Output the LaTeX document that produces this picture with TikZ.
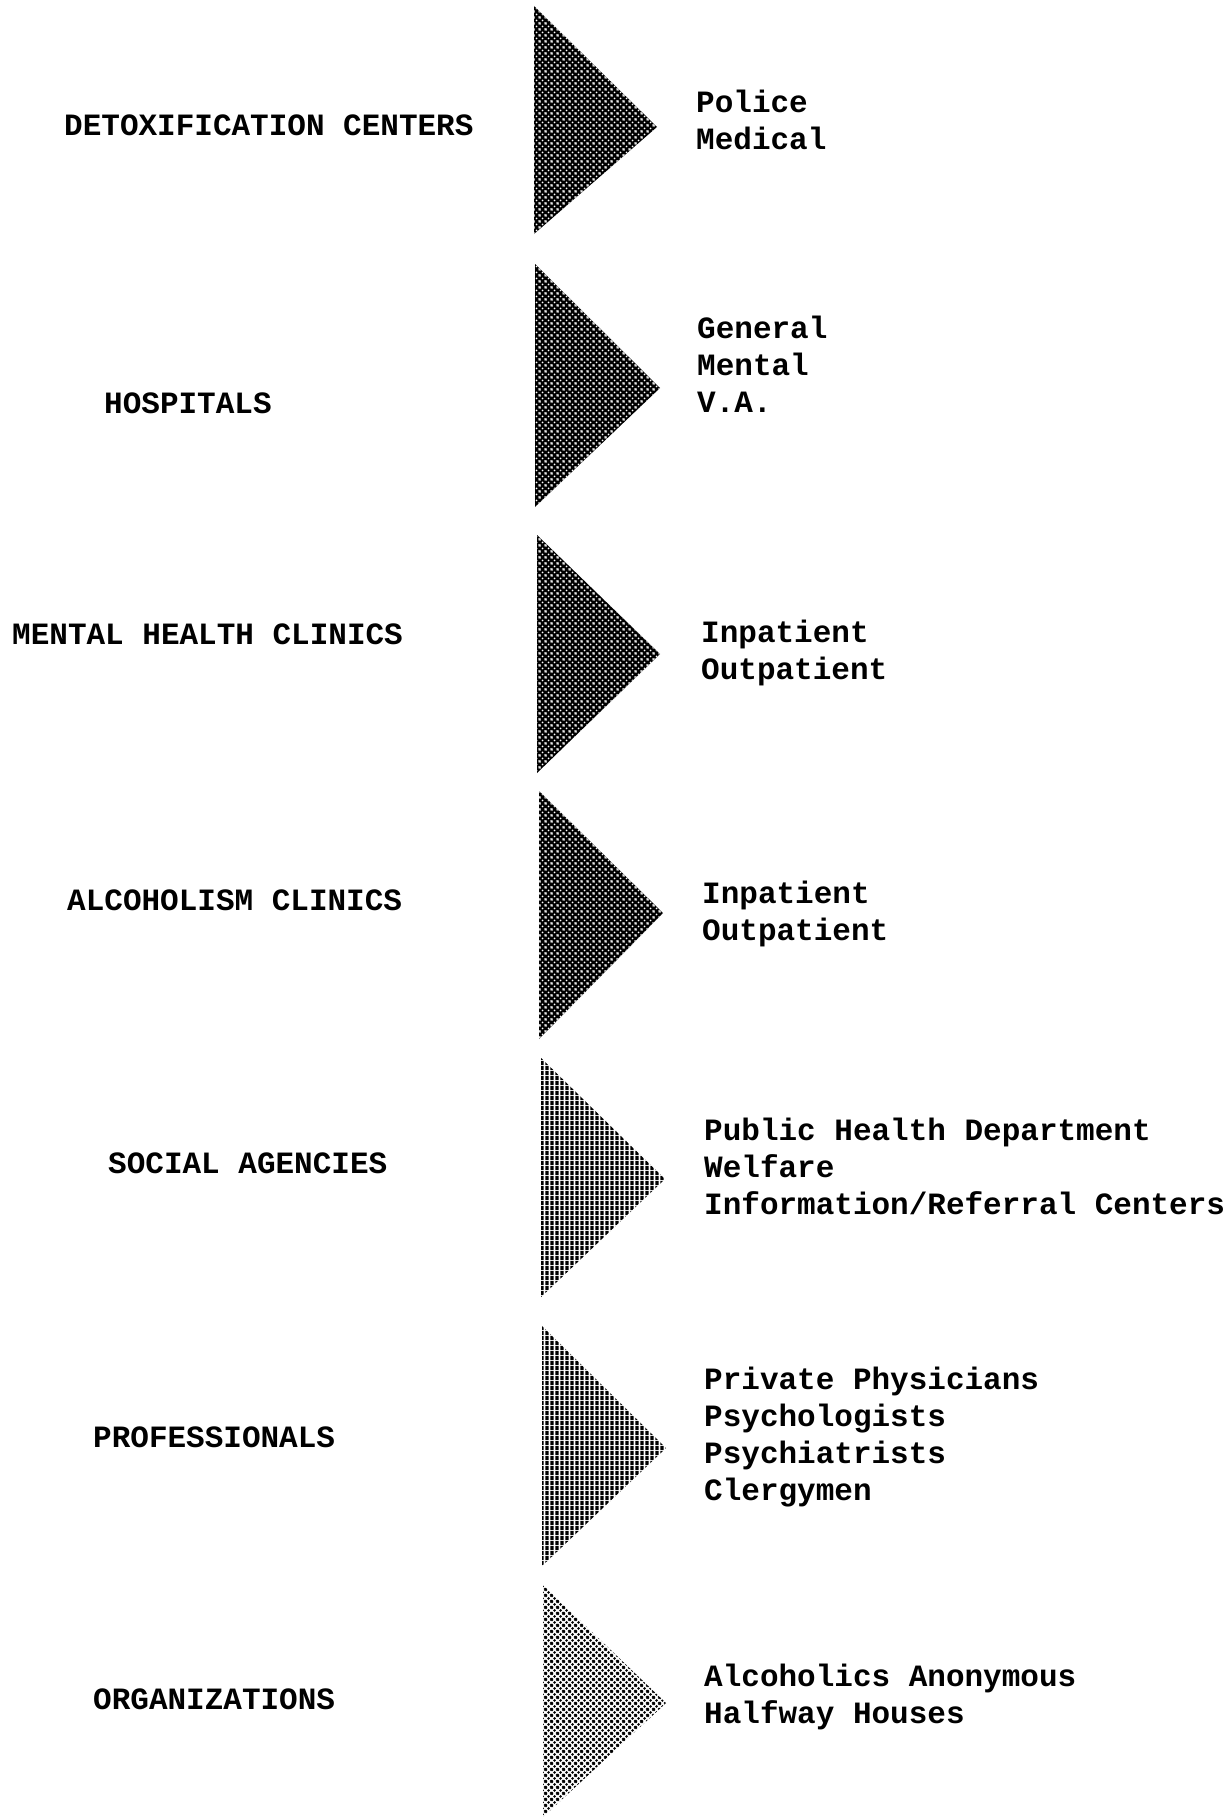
\documentclass[tikz,border=0pt]{standalone}
\usepackage{fontspec}
\newfontfamily\tw{Liberation Mono}
\usetikzlibrary{patterns.meta}
\tikzdeclarepattern{name=holes, type=uncolored,
  bounding box={(0pt,0pt) and (6pt,6pt)}, tile size={(6pt,6pt)},
  code={\fill (0pt,0pt) circle (1.1pt); \fill (6pt,0pt) circle (1.1pt);
        \fill (0pt,6pt) circle (1.1pt); \fill (6pt,6pt) circle (1.1pt);
        \fill (3pt,3pt) circle (1.1pt);}}
\tikzdeclarepattern{name=bigdots, type=uncolored,
  bounding box={(0pt,0pt) and (6pt,6pt)}, tile size={(6pt,6pt)},
  code={\fill (0pt,0pt) circle (1.7pt); \fill (6pt,0pt) circle (1.7pt);
        \fill (0pt,6pt) circle (1.7pt); \fill (6pt,6pt) circle (1.7pt);
        \fill (3pt,3pt) circle (1.7pt);}}
\tikzdeclarepattern{name=vstripes, type=uncolored,
  bounding box={(0pt,0pt) and (4.5pt,4.5pt)}, tile size={(4.5pt,4.5pt)},
  code={\fill (0.4pt,0pt) rectangle (3.9pt,4.5pt);}}
\begin{document}
\begin{tikzpicture}[x=1pt,y=-1pt,
  lab/.style={font=\tw\bfseries\fontsize{31}{37}\selectfont, inner sep=0pt, align=left, anchor=west},
  darktri/.style={fill=black, postaction={pattern={holes}, pattern color=white}},
  stripetri/.style={pattern={vstripes}, pattern color=black},
  dottri/.style={pattern={bigdots}, pattern color=black}]
\useasboundingbox (0,0) rectangle (1229,1817);
% triangles
\path[darktri] (534,6) -- (657,127) -- (534,234) -- cycle;
\path[darktri] (535,264) -- (660,388) -- (535,507) -- cycle;
\path[darktri] (537,535) -- (660,654) -- (537,773) -- cycle;
\path[darktri] (539,791) -- (663,913) -- (539,1039) -- cycle;
\path[stripetri] (541,1058) -- (665,1179) -- (541,1297) -- cycle;
\path[stripetri] (542,1326) -- (666,1448) -- (542,1566) -- cycle;
\path[dottri] (543,1585) -- (666,1703) -- (543,1817) -- cycle;
% left labels
\node[lab] (l1) at (64,125) {DETOXIFICATION CENTERS};
\node[lab] (l2) at (104,403) {HOSPITALS};
\node[lab] (l3) at (12,634) {MENTAL HEALTH CLINICS};
\node[lab] (l4) at (67,900) {ALCOHOLISM CLINICS};
\node[lab] (l5) at (108,1163) {SOCIAL AGENCIES};
\node[lab] (l6) at (93,1437) {PROFESSIONALS};
\node[lab] (l7) at (93,1699) {ORGANIZATIONS};
% right labels
\node[lab] (r1) at (696,120) {Police\\Medical};
\node[lab] (r2) at (697,364) {General\\Mental\\V.A.};
\node[lab] (r3) at (701,653) {Inpatient\\Outpatient};
\node[lab] (r4) at (702,914) {Inpatient\\Outpatient};
\node[lab] (r5) at (704,1166) {Public Health Department\\Welfare\\Information/Referral Centers};
\node[lab] (r6) at (704,1437) {Private Physicians\\Psychologists\\Psychiatrists\\Clergymen};
\node[lab] (r7) at (704,1697) {Alcoholics Anonymous\\Halfway Houses};
\end{tikzpicture}
\end{document}
